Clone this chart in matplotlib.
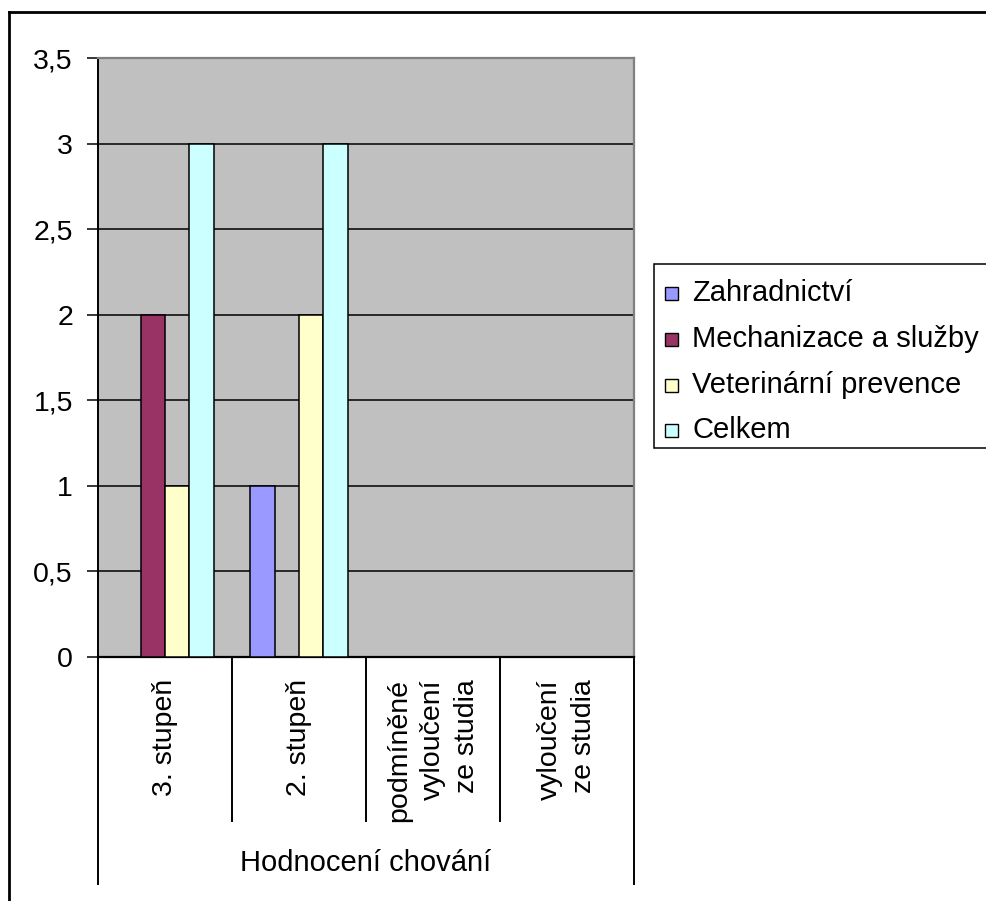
import matplotlib.pyplot as plt
import matplotlib.transforms as mtransforms
from matplotlib.patches import Rectangle
from matplotlib.lines import Line2D
import numpy as np

plt.rcParams['font.family'] = ['Liberation Sans', 'DejaVu Sans']

# === data ===
kategorie = ["3. stupeň", "2. stupeň", "podmíněné\nvyloučení\nze studia", "vyloučení\nze studia"]
skupina = "Hodnocení chování"
serie = ["Zahradnictví", "Mechanizace a služby", "Veterinární prevence", "Celkem"]
zahradnictvi = [0, 1, 0, 0]
mechanizace = [2, 0, 0, 0]
veterinarni = [1, 2, 0, 0]
celkem = [3, 3, 0, 0]
barvy = ["#9999FF", "#993366", "#FFFFCC", "#CCFFFF"]
yticks = [0, 0.5, 1, 1.5, 2, 2.5, 3, 3.5]

hodnoty = [zahradnictvi, mechanizace, veterinarni, celkem]

W, H = 986, 901
fig = plt.figure(figsize=(W / 100, H / 100), dpi=100)
ax = fig.add_axes([98 / W, 1 - 657 / H, (634 - 98) / W, (657 - 58) / H])
ax.set_facecolor("#C0C0C0")

# === bars (gap width 150 %) ===
n = len(serie)
w = 1 / (n + 1.5)
x = np.arange(len(kategorie))
for i, (vals, c) in enumerate(zip(hodnoty, barvy)):
    pos = x - 0.5 + 0.75 * w + (i + 0.5) * w
    nz = [v > 0 for v in vals]
    ax.bar(pos[nz], np.array(vals)[nz], width=w, color=c, edgecolor="black",
           linewidth=1.1, zorder=3)

ax.set_xlim(-0.5, len(kategorie) - 0.5)
ax.set_ylim(0, 3.5)
ax.set_yticks(yticks)
ax.set_yticklabels([f"{t:g}".replace(".", ",") for t in yticks], fontsize=20.5)
ax.tick_params(axis="y", length=8, width=1.1, pad=10)
ax.set_xticks([])
ax.yaxis.grid(True, color="black", linewidth=1.1, zorder=1)
ax.set_axisbelow(True)
for s in ["top", "right"]:
    ax.spines[s].set_color("#808080")
    ax.spines[s].set_linewidth(1.6)
ax.spines["left"].set_linewidth(1.4)
ax.spines["bottom"].set_linewidth(1.6)

# === category axis below the plot ===
tr = mtransforms.blended_transform_factory(ax.transData, fig.transFigure)
hranice = np.arange(len(kategorie) + 1) - 0.5
for j, b in enumerate(hranice):
    dolni = 884 if j in (0, len(hranice) - 1) else 821
    ax.add_line(Line2D([b, b], [1 - 657 / H, 1 - dolni / H], transform=tr,
                       color="black", linewidth=1.4, clip_on=False))
for xi, lab in zip(x, kategorie):
    ax.text(xi, 1 - 679 / H, lab, transform=tr, rotation=90, ha="center",
            va="top", multialignment="right", fontsize=20.5, linespacing=1.4)
ax.text(np.mean(x), 1 - 863 / H, skupina, transform=tr, ha="center",
        va="center", fontsize=21)

# === legend ===
fig.patches.append(Rectangle((654 / W, 1 - 448 / H), (1000 - 654) / W, (448 - 264) / H,
                             transform=fig.transFigure, facecolor="white",
                             edgecolor="black", linewidth=1.1))
for k, (nazev, c) in enumerate(zip(serie, barvy)):
    yc = [293, 339, 385, 430][k]
    fig.patches.append(Rectangle((665 / W, 1 - (yc + 7) / H), 13 / W, 13 / H,
                                 transform=fig.transFigure, facecolor=c,
                                 edgecolor="black", linewidth=1.0))
    fig.text(692 / W, 1 - yc / H, nazev, ha="left", va="center", fontsize=21)

# === outer chart frame ===
fig.add_artist(Line2D([9 / W, 1.01], [1 - 12 / H, 1 - 12 / H], transform=fig.transFigure,
                      color="black", linewidth=2))
fig.add_artist(Line2D([9 / W, 9 / W], [1 - 12 / H, -0.01], transform=fig.transFigure,
                      color="black", linewidth=2))

fig.savefig("out.png", dpi=100)
